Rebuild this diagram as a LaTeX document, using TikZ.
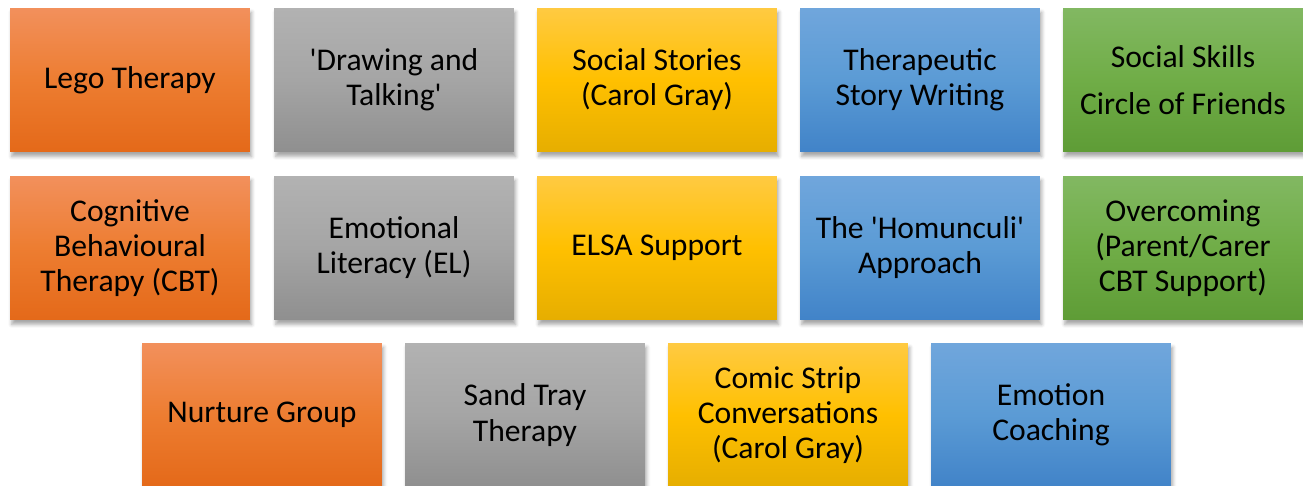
\documentclass[tikz,border=0pt]{standalone}
\usepackage{fontspec}
\setmainfont{Carlito}
\usetikzlibrary{shadows.blur}
\definecolor{orgTop}{RGB}{242,144,92}
\definecolor{orgMid}{RGB}{237,125,49}
\definecolor{orgBot}{RGB}{228,105,25}
\definecolor{gryTop}{RGB}{178,178,178}
\definecolor{gryMid}{RGB}{165,165,165}
\definecolor{gryBot}{RGB}{143,143,143}
\definecolor{ylwTop}{RGB}{255,202,66}
\definecolor{ylwMid}{RGB}{255,192,0}
\definecolor{ylwBot}{RGB}{230,174,0}
\definecolor{bluTop}{RGB}{112,166,220}
\definecolor{bluMid}{RGB}{91,155,213}
\definecolor{bluBot}{RGB}{65,131,200}
\definecolor{grnTop}{RGB}{130,184,98}
\definecolor{grnMid}{RGB}{112,173,71}
\definecolor{grnBot}{RGB}{94,156,54}
\newcommand{\sq}{\textquotesingle}
\begin{document}
\begin{tikzpicture}[x=0.02cm, y=-0.02cm,
  every node/.style={font=\fontsize{18}{20}\selectfont},
  card/.style={minimum width=4.8cm, minimum height=2.88cm, inner sep=0pt, align=center,
    blur shadow={shadow xshift=1pt, shadow yshift=-2.5pt, shadow blur radius=2pt, shadow opacity=35}},
  org/.style={card, top color=orgTop, bottom color=orgBot, middle color=orgMid},
  gry/.style={card, top color=gryTop, bottom color=gryBot, middle color=gryMid},
  ylw/.style={card, top color=ylwTop, bottom color=ylwBot, middle color=ylwMid},
  blu/.style={card, top color=bluTop, bottom color=bluBot, middle color=bluMid},
  grn/.style={card, top color=grnTop, bottom color=grnBot, middle color=grnMid}]
\useasboundingbox (0,0) rectangle (1303,486);
% first row
\node[org] (lego) at (130,80) {Lego Therapy};
\node[gry] (drawing) at (394,80) {\sq Drawing and\\Talking\sq};
\node[ylw] (stories) at (657,80) {Social Stories\\(Carol Gray)};
\node[blu] (writing) at (920,80) {Therapeutic\\Story Writing};
\node[grn] (skills) at (1183,80) {Social Skills\\[7pt]Circle of Friends};
% second row
\node[org] (cbt) at (130,248) {Cognitive\\Behavioural\\Therapy (CBT)};
\node[gry] (literacy) at (394,248) {Emotional\\Literacy (EL)};
\node[ylw] (elsa) at (657,248) {ELSA Support};
\node[blu] (homunculi) at (920,248) {The \sq Homunculi\sq\\Approach};
\node[grn] (overcoming) at (1183,248) {Overcoming\\(Parent/Carer\\CBT Support)};
% third row
\node[org] (nurture) at (262,415) {Nurture Group};
\node[gry] (sandtray) at (525,415) {Sand Tray\\Therapy};
\node[ylw] (comic) at (788,415) {Comic Strip\\Conversations\\(Carol Gray)};
\node[blu] (coaching) at (1051,415) {Emotion\\Coaching};
\end{tikzpicture}
\end{document}
